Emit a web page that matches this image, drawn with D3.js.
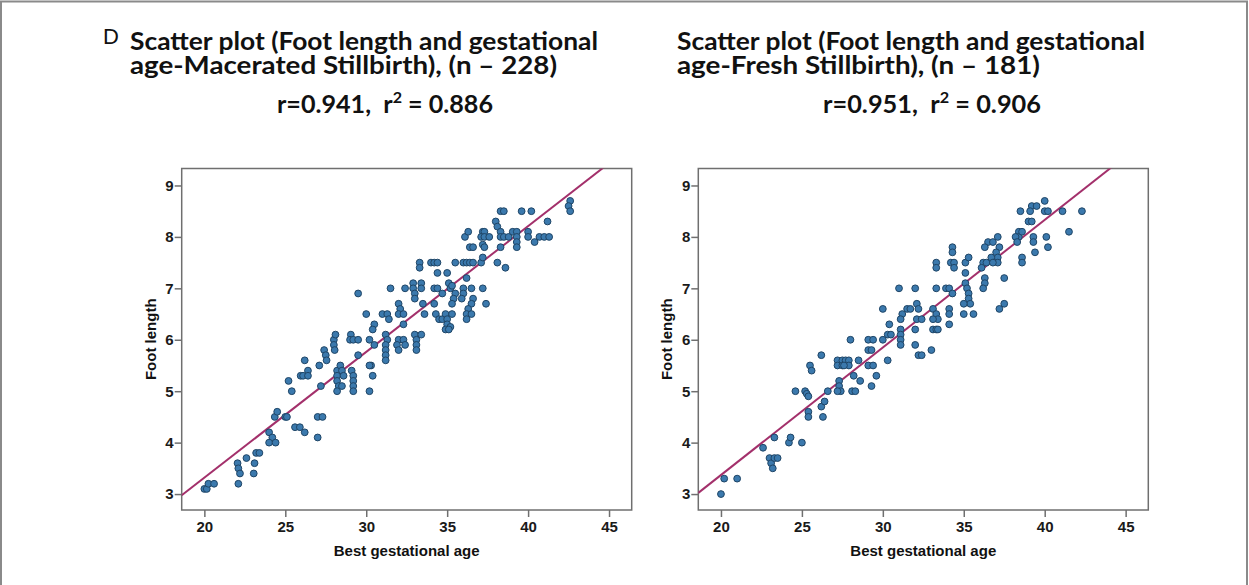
<!DOCTYPE html>
<html lang="en">
<head>
    <meta charset="UTF-8">
    <title>Foot length vs gestational age</title>
    <style>
        body{ margin:0; background:#fff; }
        text{ white-space: pre; }
        .title{ font-family: Lato, "Open Sans", sans-serif; font-size:25px; font-weight:bold; fill:#111; }
    </style>
    <script src="https://d3js.org/d3.v7.min.js"></script>
</head>
<body>
    <div class="canvas"></div>
    <script>
    // values: [best gestational age, foot length]
    const macerated = [
        [20.0,3.1],[20.15,3.1],[20.25,3.2],[20.6,3.2],
        [22.05,3.6],[22.1,3.5],[22.2,3.4],[22.1,3.2],[22.6,3.7],[23.05,3.4],[23.1,3.6],[23.2,3.8],[23.4,3.8],
        [24.0,4.2],[24.2,4.1],[24.0,4.0],[24.4,4.0],[24.35,4.5],[24.5,4.6],[25.0,4.5],[25.1,4.5],[25.2,5.2],[25.4,5.0],
        [25.6,4.3],[25.9,4.3],[26.2,4.2],[25.95,5.3],[26.1,5.3],[26.2,5.6],[26.4,5.4],[26.4,5.3],[27.0,4.1],[27.0,4.5],
        [27.3,4.5],[27.1,5.5],[27.2,5.1],[27.4,5.8],[27.5,5.7],[27.55,5.6],
        [28.0,6.0],[28.1,6.1],[28.0,5.9],[28.05,5.8],[28.2,5.4],[28.2,5.3],[28.2,5.2],[28.3,5.1],[28.2,5.0],[28.4,5.5],
        [28.5,5.4],[28.6,5.3],[28.5,5.1],[29.05,6.1],[29.0,6.0],[29.2,6.0],[29.5,6.0],[29.1,5.4],[29.2,5.3],[29.2,5.2],
        [29.2,5.1],[29.2,5.0],[29.5,5.7],[30.2,6.0],[30.3,5.5],[30.2,5.5],[30.4,5.3],[30.2,5.0],[30.5,5.9],
        [38.3,8.5],[38.5,8.5],[39.6,8.5],[40.2,8.5],[42.6,8.7],[42.5,8.6],[42.6,8.5],[41.2,8.3],[38.0,8.3],[38.1,8.2],
        [36.1,8.0],[36.3,8.1],[37.2,8.1],[37.3,8.1],[37.1,8.0],[37.3,8.0],[37.6,8.0],[38.3,8.1],[38.3,8.0],[38.5,8.0],
        [38.8,8.0],[39.05,8.1],[39.3,8.1],[39.3,8.0],[39.3,7.9],[39.3,7.8],[40.0,8.1],[40.0,8.0],[40.4,7.9],[40.7,8.0],
        [41.0,8.0],[41.3,8.0],[36.4,7.8],[36.6,7.8],[37.2,7.85],[37.3,7.8],[38.3,7.8],[38.1,7.5],[38.6,7.4],
        [33.3,7.5],[34.0,7.5],[34.2,7.5],[34.4,7.5],[35.5,7.5],[36.0,7.5],[36.2,7.5],[36.4,7.5],[36.6,7.5],[37.1,7.5],
        [33.3,7.4],[37.2,7.6],[34.4,7.3],[35.0,7.3],[36.2,7.2],
        [29.5,6.9],[31.5,7.0],[32.4,7.0],[32.9,7.1],[32.9,7.0],[33.0,6.9],[33.0,6.8],[33.4,7.1],[33.4,7.0],[34.2,7.0],
        [34.4,7.0],[34.7,6.9],[35.1,7.1],[35.2,7.0],[35.3,7.05],[35.5,6.9],[35.4,6.8],[35.3,6.7],[36.0,7.0],[36.0,6.9],
        [35.9,6.8],[36.5,7.0],[36.6,6.8],[36.5,6.7],[36.3,6.6],[36.2,6.5],[36.2,6.4],[36.5,6.5],[37.2,7.0],[37.4,6.7],
        [33.5,6.7],[34.2,6.7],[30.0,6.5],[31.0,6.5],[31.3,6.5],[31.4,6.4],[32.0,6.7],[32.1,6.6],[32.0,6.5],[32.3,6.5],
        [33.6,6.5],[34.3,6.5],[34.5,6.4],[34.7,6.4],[34.9,6.5],[35.0,6.4],[35.0,6.3],[35.2,6.25],[34.9,6.2],[35.1,6.2],
        [35.3,6.5],[30.5,6.3],[30.4,6.2],[32.3,6.3],
        [31.2,6.1],[31.3,6.0],[31.2,5.9],[31.2,5.8],[31.2,5.7],[31.2,5.6],[32.0,6.0],[31.9,5.9],[32.0,5.8],[32.3,6.0],
        [32.4,5.9],[33.0,6.1],[33.1,6.0],[33.1,5.9],[33.1,5.8],[33.4,6.1]
    ];
    const fresh = [
        [20.0,3.0],[20.2,3.3],[21.0,3.3],[22.6,3.9],[23.0,3.7],[23.1,3.6],[23.2,3.5],[23.3,3.7],[23.5,3.7],[23.3,4.1],
        [24.2,4.0],[24.3,4.1],[25.0,4.0],[24.6,5.0],[25.2,5.0],[25.3,4.95],[25.4,4.9],[25.4,4.6],[25.4,4.5],[25.5,5.5],
        [25.6,5.4],[26.2,5.7],[26.2,4.7],[26.3,4.5],[26.4,4.8],[26.6,5.0],
        [27.2,5.6],[27.2,5.5],[27.5,5.6],[27.5,5.5],[27.7,5.6],[27.9,5.6],[27.9,5.5],[27.6,5.5],[27.3,5.2],[27.3,5.1],
        [27.4,5.0],[27.2,5.0],[28.0,6.0],[28.2,5.3],[28.1,5.0],[28.3,5.0],[28.5,5.6],[28.6,5.2],[29.1,6.0],[29.4,6.0],
        [29.1,5.8],[29.3,5.8],[29.1,5.5],[29.4,5.5],[29.3,5.1],[29.6,5.3],[30.0,6.0],[30.3,5.6],[30.3,6.1],[30.5,6.1],
        [40.0,8.7],[39.2,8.6],[39.5,8.6],[39.1,8.5],[38.5,8.5],[40.0,8.5],[40.2,8.5],[41.1,8.5],[42.3,8.5],[39.0,8.3],
        [39.2,8.3],[41.5,8.1],[38.4,8.1],[38.4,8.0],[38.6,8.1],[38.2,8.0],[38.3,7.9],[39.3,8.0],[39.3,7.9],[40.1,8.0],
        [40.2,7.8],[39.4,7.7],
        [36.5,7.9],[36.8,7.9],[37.1,8.0],[37.2,7.8],[37.0,7.7],[36.3,7.8],[37.1,7.6],[37.1,7.5],[38.6,7.6],[38.6,7.5],
        [36.2,7.5],[36.4,7.5],[36.7,7.6],[36.8,7.5],[36.1,7.4],
        [34.3,7.8],[34.3,7.7],[33.3,7.5],[33.3,7.4],[34.2,7.5],[34.4,7.5],[34.4,7.4],[35.1,7.5],[35.3,7.6],[35.1,7.3],
        [36.3,7.2],[36.3,7.1],[36.2,7.0],[37.5,7.2],
        [31.0,7.0],[32.0,7.0],[33.3,7.0],[33.9,7.0],[34.1,7.0],[34.3,6.9],[35.1,7.1],[35.2,7.0],[35.3,6.9],[35.3,6.8],
        [35.4,6.7],[35.0,6.7],[35.0,6.5],[35.6,6.5],[37.2,6.6],[37.5,6.7],
        [30.0,6.6],[31.2,6.5],[31.5,6.6],[31.7,6.6],[32.1,6.7],[32.2,6.6],[31.1,6.4],[32.1,6.4],[32.4,6.4],[33.1,6.6],
        [33.3,6.5],[33.4,6.4],[33.1,6.4],[34.1,6.6],[34.1,6.5],[34.1,6.3],[30.4,6.3],[31.1,6.2],[31.1,6.1],[31.1,6.0],
        [31.1,5.9],[32.0,6.2],[32.0,5.9],[32.2,5.7],[32.4,5.7],[33.0,5.8],[33.1,6.2],[33.3,6.2],[33.4,6.2]
    ];
    // fit lines: [intercept, slope]
    const maceratedFit = [-1.574, 0.2446];
    const freshFit = [-1.59, 0.248];

    const xTicks = [20, 25, 30, 35, 40, 45];
    const yTicks = [3, 4, 5, 6, 7, 8, 9];
    const titlesLeft = ["Scatter plot (Foot length and gestational", "age-Macerated Stillbirth), (n \u2013 228)"];
    const titlesRight = ["Scatter plot (Foot length and gestational", "age-Fresh Stillbirth), (n \u2013 181)"];
    const statsLeft = ["r=0.941,  r", "2", " = 0.886"];
    const statsRight = ["r=0.951,  r", "2", " = 0.906"];

    const W = 1249, H = 585;
    const labelFont = 'Arial, "Liberation Sans", sans-serif';
    const svg = d3.select('.canvas')
                    .append('svg')
                    .attr('width', W)
                    .attr('height', H);

    // outer figure border
    svg.append('rect')
        .attr('x', 1).attr('y', 1.5)
        .attr('width', 1246).attr('height', 620)
        .attr('fill', 'none')
        .attr('stroke', '#8a8a8a')
        .attr('stroke-width', 2);

    svg.append('text')
        .attr('x', 103).attr('y', 44)
        .style('font-family', labelFont)
        .style('font-size', '22px')
        .attr('fill', '#111')
        .text('D');

    // widths are fitted to the narrow Calibri-like lettering of the original
    function drawTitle(x0, lines, stats, statsX, widths){
        const t = svg.append('text').attr('class','title').attr('x', x0).attr('y', 50);
        const l1 = t.append('tspan').attr('x', x0).text(lines[0]);
        const l2 = t.append('tspan').attr('x', x0).attr('dy', 24).text(lines[1]);
        l1.attr('textLength', widths[0]).attr('lengthAdjust', 'spacingAndGlyphs');
        l2.attr('textLength', widths[1]).attr('lengthAdjust', 'spacingAndGlyphs');

        const t3 = svg.append('text').attr('class','title').attr('x', statsX).attr('y', 113);
        t3.append('tspan').text(stats[0]);
        t3.append('tspan').attr('dy', -10).style('font-size','16px').text(stats[1]);
        t3.append('tspan').attr('dy', 10).text(stats[2]);
        t3.attr('textLength', widths[2]).attr('lengthAdjust', 'spacingAndGlyphs');
    }
    drawTitle(130, titlesLeft, statsLeft, 277, [468, 427, 216]);
    drawTitle(677, titlesRight, statsRight, 823, [468, 363, 218]);

    function drawPlot(left, data, fit, id){
        const top = 168.5, bottom = 510, right = left + 450;
        const x = d3.scaleLinear().domain([18.6, 46.4]).range([left, right]);
        const y = d3.scaleLinear().domain([2.69, 9.33]).range([bottom, top]);
        const g = svg.append('g');

        g.append('clipPath').attr('id', id)
            .append('rect')
            .attr('x', left).attr('y', top)
            .attr('width', right - left).attr('height', bottom - top);

        // axes
        const xAxis = g.append('g')
            .attr('transform', `translate(0,${bottom})`)
            .call(d3.axisBottom(x).tickValues(xTicks).tickFormat(d3.format('d')).tickSize(7).tickPadding(4));
        const yAxis = g.append('g')
            .attr('transform', `translate(${left},0)`)
            .call(d3.axisLeft(y).tickValues(yTicks).tickFormat(d3.format('d')).tickSize(7).tickPadding(1));
        [xAxis, yAxis].forEach(a => {
            a.attr('font-size', null).attr('font-family', null);
            a.select('.domain').remove();
            a.selectAll('line').attr('stroke', '#6f6f6f').attr('stroke-width', 1.5);
            a.selectAll('text')
                .style('font-family', labelFont)
                .style('font-size', '15px')
                .style('font-weight', 'bold')
                .attr('fill', '#1a1a1a');
        });

        g.append('rect')
            .attr('x', left).attr('y', top)
            .attr('width', right - left).attr('height', bottom - top)
            .attr('fill', 'none')
            .attr('stroke', '#6f6f6f')
            .attr('stroke-width', 1.5);

        g.append('text')
            .attr('text-anchor', 'middle')
            .attr('x', (left + right) / 2).attr('y', 556)
            .style('font-family', labelFont).style('font-size', '15px').style('font-weight', 'bold')
            .attr('fill', '#111')
            .text('Best gestational age');
        g.append('text')
            .attr('text-anchor', 'middle')
            .attr('transform', `translate(${left - 26},${(top + bottom) / 2}) rotate(-90)`)
            .style('font-family', labelFont).style('font-size', '15px').style('font-weight', 'bold')
            .attr('fill', '#111')
            .text('Foot length');

        const line = d3.line().x(d => x(d)).y(d => y(fit[0] + fit[1] * d));
        g.append('path')
            .datum(x.domain())
            .attr('clip-path', `url(#${id})`)
            .attr('d', line)
            .attr('fill', 'none')
            .attr('stroke', '#a3306b')
            .attr('stroke-width', 2);

        g.selectAll('circle')
            .data(data)
            .enter()
            .append('circle')
            .attr('cx', d => x(d[0]))
            .attr('cy', d => y(d[1]))
            .attr('r', 3.4)
            .attr('fill', '#3b79ad')
            .attr('stroke', '#1f4566')
            .attr('stroke-width', 1);
    }
    drawPlot(181.7, macerated, maceratedFit, 'clipL');
    drawPlot(698.3, fresh, freshFit, 'clipR');
    </script>
</body>
</html>
